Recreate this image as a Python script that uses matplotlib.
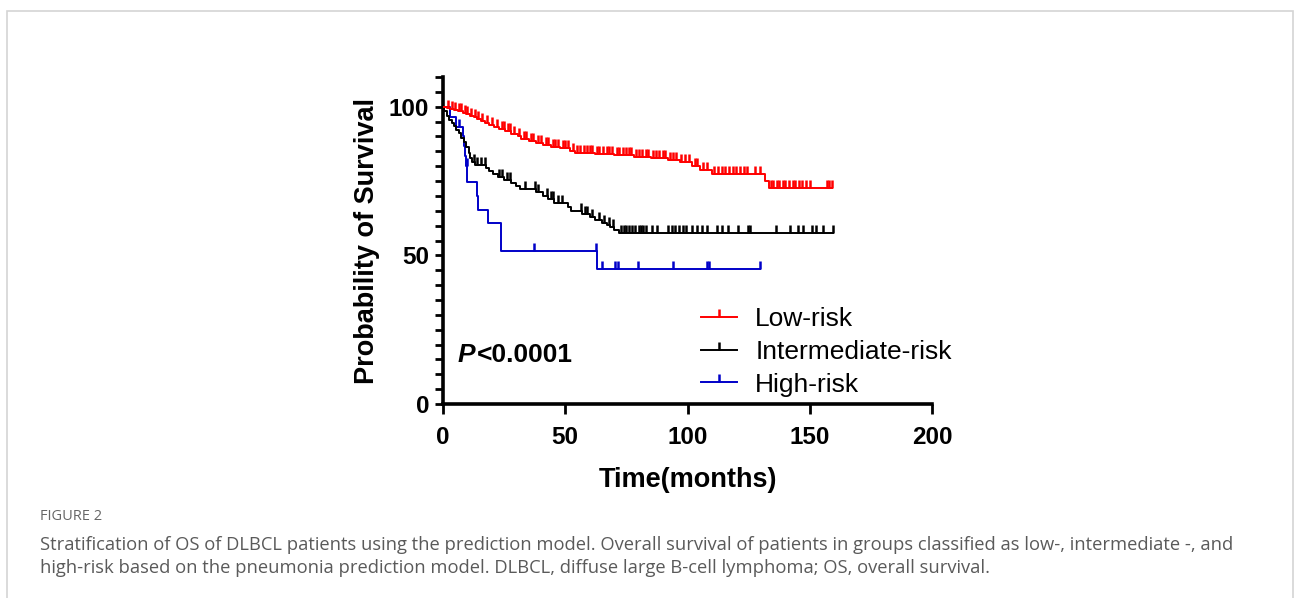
import numpy as np
import matplotlib
matplotlib.use('Agg')
import matplotlib.pyplot as plt
from matplotlib.patches import Rectangle
from matplotlib.transforms import IdentityTransform

plt.rcParams['font.family'] = ['Liberation Sans', 'DejaVu Sans']

# Kaplan-Meier steps (time in months, survival in %)
low_t = [0, 1.5, 3, 4.5, 6, 8, 9.5, 11, 12.5, 14, 15.5, 17, 19, 21, 23, 25.5, 28, 30.5, 32,
         35, 38, 41, 44, 48, 52, 54, 62, 70, 78, 85, 92, 97, 101.7, 105.1, 109.9, 131.7, 133.5]
low_s = [100, 99.6, 99.2, 98.8, 98.4, 98.0, 97.5, 97.0, 96.4, 95.8, 95.2, 94.5, 93.8, 93.1, 92.4,
         91.7, 90.9, 90.1, 89.3, 88.6, 87.9, 87.2, 86.6, 86.0, 85.2, 84.5, 84.1, 83.7, 83.2, 82.7,
         82.2, 81.4, 80.0, 78.8, 77.3, 74.9, 72.6]
low_end = 159.0
low_cens = [2, 3.5, 5, 6.5, 7.5, 9, 10, 11.5, 13, 14.5, 16, 18, 20, 22, 24, 24.8, 26.5, 27.2, 29,
            31, 33, 34, 36, 37, 39, 40, 42, 43, 45, 46, 47, 49, 50, 51, 53, 55, 56, 57.5, 59, 60,
            61, 63, 64, 65.5, 67, 68, 69, 71, 72, 73.5, 75, 76, 77, 79, 80, 81.5, 83, 84, 86, 87,
            88.5, 90, 91, 93, 94, 95.5, 97.5, 99, 100.5, 103, 104, 106.5, 108, 111, 112.5, 114,
            115.5, 117, 118.5, 120, 121.5, 123, 124.5, 127.5, 129.5, 134, 135, 136.5, 137.5, 139,
            140, 141.5, 143, 144, 145.5, 147, 148.5, 150, 157, 158, 159]

mid_t = [0, 0.5, 1.5, 2.5, 3.5, 4.5, 5.5, 6.5, 7.5, 8.5, 9.5, 10.5, 11.2, 12, 13, 17.5, 19, 20.5,
         22.5, 25, 28, 30, 31.5, 38, 41, 43, 45.5, 51, 52.5, 57, 60, 62, 65, 67, 68.5, 70, 72]
mid_s = [100, 98.5, 97, 95.5, 94.5, 93.4, 92.2, 91, 89.6, 88, 86.4, 84.5, 82.8, 81.5, 80.5, 79.4,
         78.3, 77.3, 76.4, 75.4, 74.4, 73.5, 72.3, 71.2, 70.0, 68.8, 67.5, 66.4, 64.8, 63.8, 62.9,
         62.0, 61.0, 60.2, 59.4, 58.6, 57.6]
mid_end = 159.7
mid_cens = [12.5, 14, 15.5, 17, 23, 24, 26, 27.5, 33.4, 37.6, 39, 42.4, 44.3, 45, 47, 48.5, 56.6,
            58, 59, 61, 64, 66, 68, 69.5, 73, 74, 75, 76, 77.5, 78.5, 80, 81, 82, 83, 85.5, 87.5,
            92, 93.5, 95, 96.5, 98, 99.5, 101.7, 103.8, 105.8, 107.9, 111.9, 114, 116.7, 120.8,
            124.9, 125.6, 136.2, 141.9, 145.3, 147.1, 150.8, 152.6, 155.5, 159.7]

high_t = [0, 3, 5.5, 8, 8.5, 9, 9.5, 10, 13.8, 14.5, 18.3, 23.6, 62.9]
high_s = [100, 96.7, 93.3, 90.0, 86.7, 83.3, 80.0, 74.6, 70.0, 65.3, 60.8, 51.3, 45.4]
high_end = 129.7
high_cens = [6.5, 9.7, 37.2, 62.5, 64.9, 70.3, 71.6, 79.6, 94.2, 107.8, 108.8, 129.7]

labels = ['Low-risk', 'Intermediate-risk', 'High-risk']
colors = ['#FF0000', '#000000', '#0000C8']

W, H = 1295, 598
fig = plt.figure(figsize=(W / 100, H / 100), dpi=100)

# card border
fig.patches.append(Rectangle((7 / W, -0.05), (1293 - 7) / W, 1.05 - 11 / H,
                             transform=fig.transFigure, fill=False,
                             edgecolor='#d4d4d4', linewidth=1.2))

ax = fig.add_axes([443 / W, 1 - 404 / H, (932 - 443) / W, (404 - 77) / H])

groups = [(low_t, low_s, low_end, low_cens),
          (mid_t, mid_s, mid_end, mid_cens),
          (high_t, high_s, high_end, high_cens)]
zs = [4, 3, 2]
for (t, s, end, cens), c, z in zip(groups, colors, zs):
    tt = np.array(t + [end])
    ss = np.array(s + [s[-1]])
    ax.step(tt, ss, where='post', color=c, lw=1.4, zorder=z)
    idx = np.searchsorted(np.array(t), np.array(cens), side='right') - 1
    ax.plot(cens, np.array(s)[idx], ls='none', marker=2, ms=6, mew=1.8,
            color=c, zorder=z)

ax.set_xlim(0, 200)
ax.set_ylim(0, 110)
ax.set_xticks([0, 50, 100, 150, 200])
ax.set_yticks([0, 50, 100])
ax.set_yticks(np.arange(0, 111, 5), minor=True)
for sp in ['top', 'right']:
    ax.spines[sp].set_visible(False)
for sp in ['left', 'bottom']:
    ax.spines[sp].set_linewidth(2.6)
ax.tick_params(axis='x', length=7, width=2, pad=9, labelsize=17.5)
ax.tick_params(axis='y', which='both', length=6, width=2, pad=4, labelsize=17.5)
for lb in ax.get_xticklabels() + ax.get_yticklabels():
    lb.set_fontweight('bold')

ax.set_xlabel('Time(months)', fontsize=19.5, fontweight='bold', labelpad=13)
ax.set_ylabel('Probability of Survival', fontsize=19.5, fontweight='bold', labelpad=6)

# legend
leg_handles = []
for c in colors:
    ln = plt.Line2D([], [], color=c, lw=1.4)
    mk = plt.Line2D([], [], color=c, ls='none', marker=2, ms=6, mew=1.8)
    leg_handles.append((ln, mk))
ax.legend(leg_handles, labels, loc='upper left', bbox_to_anchor=(688 / W, 1 - 294 / H),
          bbox_transform=fig.transFigure, frameon=False, fontsize=19,
          handlelength=1.35, handletextpad=0.7, labelspacing=0.33, borderpad=0)

# P value
p1 = ax.text(458, H - 362, 'P', transform=IdentityTransform(), fontsize=19,
             fontweight='bold', style='italic', va='baseline', ha='left')
fig.canvas.draw()
bb = p1.get_window_extent(fig.canvas.get_renderer())
ax.text(bb.x1 + 1, H - 362, '<0.0001', transform=IdentityTransform(),
        fontsize=19, fontweight='bold', va='baseline', ha='left')

# caption
cap = ['Open Sans', 'DejaVu Sans']
fig.text(40 / W, 1 - 517 / H, 'FIGURE 2', fontsize=10.5, color='#666666', family=cap,
         va='center', ha='left')
fig.text(40 / W, 1 - 545 / H,
         'Stratification of OS of DLBCL patients using the prediction model. Overall survival '
         'of patients in groups classified as low-, intermediate -, and',
         fontsize=13.2, color='#5a5a5a', family=cap, va='center', ha='left')
fig.text(40 / W, 1 - 568 / H,
         'high-risk based on the pneumonia prediction model. DLBCL, diffuse large B-cell '
         'lymphoma; OS, overall survival.',
         fontsize=13.2, color='#5a5a5a', family=cap, va='center', ha='left')

fig.savefig('out.png', dpi=100)
